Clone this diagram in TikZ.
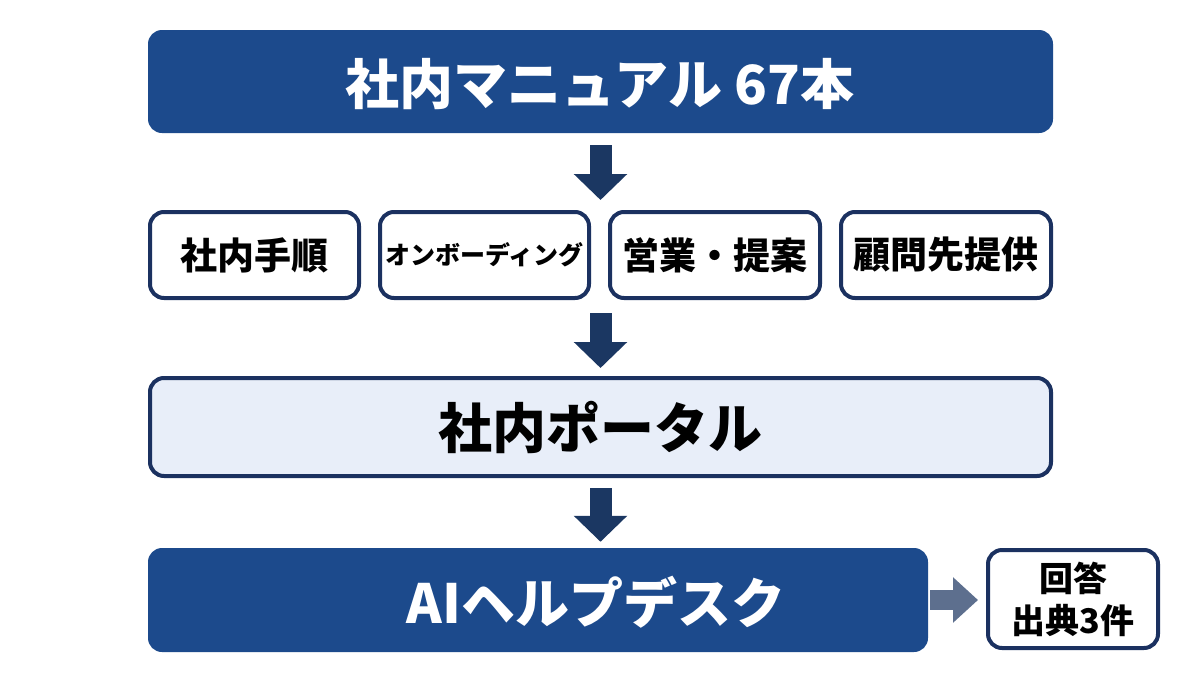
\documentclass[tikz,border=0pt]{standalone}
\usepackage{fontspec}
\newfontfamily\jp{Noto Sans CJK JP}
\usetikzlibrary{arrows.meta,calc}
\definecolor{navy}{HTML}{1C4A8C}
\definecolor{edgec}{HTML}{1B3160}
\definecolor{arrc}{HTML}{1B3762}
\definecolor{pale}{HTML}{E8EEF9}
\definecolor{garrow}{HTML}{5D6F8E}
\begin{document}
\begin{tikzpicture}[x=1pt,y=-1pt,
  darkbox/.style={fill=navy, rounded corners=14pt, inner sep=0pt},
  outbox/.style={draw=edgec, line width=4pt, fill=white, rounded corners=14pt, inner sep=0pt, align=center, text=black},
  whitetxt/.style={text=white, inner sep=0pt},
  downarrow/.style={draw=arrc, line width=22pt, -{Triangle[width=52pt,length=26pt]}},
  rowfont/.style={font=\jp\bfseries\fontsize{37}{40}\selectfont},
]
\useasboundingbox (0,0) rectangle (1200,675);
\fill[white] (0,0) rectangle (1200,675);

% top box
\node[darkbox, minimum width=905pt, minimum height=103pt] (top) at (600.5,81.5) {};
\node[whitetxt, font=\jp\bfseries\fontsize{54}{58}\selectfont] (toptxt) at (600,84) {社内マニュアル 67本};

% row of four
\node[outbox, rowfont, minimum width=209pt, minimum height=86pt] (r1) at (254.5,255) {社内手順};
\node[outbox, font=\jp\bfseries\fontsize{25}{28}\selectfont, minimum width=209pt, minimum height=86pt] (r2) at (484.5,255) {オンボーディング};
\node[outbox, rowfont, minimum width=210pt, minimum height=86pt] (r3) at (715,255) {営業・提案};
\node[outbox, rowfont, minimum width=210pt, minimum height=86pt] (r4) at (946,255) {顧問先提供};

% portal
\node[outbox, fill=pale, minimum width=901pt, minimum height=98pt, font=\jp\bfseries\fontsize{54}{58}\selectfont] (portal) at (600.5,427) {社内ポータル};

% AI helpdesk
\node[darkbox, minimum width=780pt, minimum height=104pt] (ai) at (538,600) {};
\node[whitetxt, font=\jp\bfseries\fontsize{54}{58}\selectfont] (aitxt) at (596,602) {AIヘルプデスク};

% answer box
\node[outbox, minimum width=170pt, minimum height=98pt, font=\jp\bfseries\fontsize{34}{42}\selectfont] (ans) at (1073,599) {回答\\出典3件};

% arrows
\draw[downarrow] ($(top.south)+(0,12)$) -- ($(r1.north -| top.south)+(0,-10)$);
\draw[downarrow] ($(r1.south -| top.south)+(0,13)$) -- ($(portal.north)+(0,-8)$);
\draw[downarrow] ($(portal.south)+(0,10)$) -- ($(ai.north -| portal.south)+(0,-6)$);
\draw[draw=garrow, line width=20pt, -{Triangle[width=44pt,length=25pt]}] ($(ai.east)+(2,0)$) -- ($(ai.east -| ans.west)+(-8,0)$);
\end{tikzpicture}
\end{document}
